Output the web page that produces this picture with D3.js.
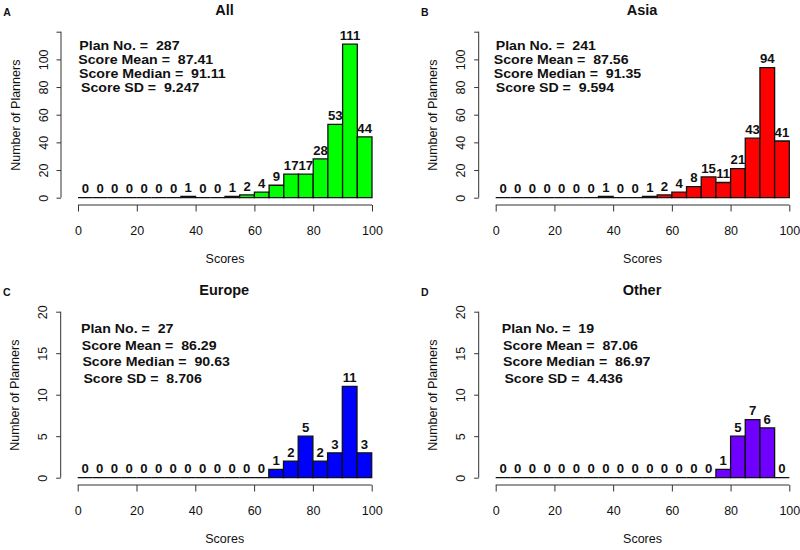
<!DOCTYPE html>
<html><head><meta charset="utf-8">
<script src="https://cdn.jsdelivr.net/npm/d3@7"></script>
<style>
body{margin:0;background:#fff;}
text{font-family:"Liberation Sans",Arial,sans-serif;}
</style></head>
<body>
<svg id="chart" width="800" height="550"></svg>
<script>
// ---- data ----
const binStarts = [0,5,10,15,20,25,30,35,40,45,50,55,60,65,70,75,80,85,90,95];
const binWidth = 5;
const panelLetters = ["A","B","C","D"];
const panelTitles = ["All","Asia","Europe","Other"];
const countsAll    = [0,0,0,0,0,0,0,1,0,0,1,2,4,9,17,17,28,53,111,44];
const countsAsia   = [0,0,0,0,0,0,0,1,0,0,1,2,4,8,15,11,21,43,94,41];
const countsEurope = [0,0,0,0,0,0,0,0,0,0,0,0,0,1,2,5,2,3,11,3];
const countsOther  = [0,0,0,0,0,0,0,0,0,0,0,0,0,0,0,1,5,7,6,0];
const planNo      = ["287","241","27","19"];
const scoreMean   = ["87.41","87.56","86.29","87.06"];
const scoreMedian = ["91.11","91.35","90.63","86.97"];
const scoreSD     = ["9.247","9.594","8.706","4.436"];
const xTicks = [0,20,40,60,80,100];
const yTicksTop = [0,20,40,60,80,100,120];
const yTickLabelsTop = ["0","20","40","60","80","100",""];
const yTicksBottom = [0,5,10,15,20];
const yTickLabelsBottom = ["0","5","10","15","20"];
const xLabel = "Scores";
const yLabel = "Number of Planners";

// ---- layout / style ----
const colors = ["#00ff00","#ff0000","#0000ff","#6f00ff"];
const allCounts = [countsAll, countsAsia, countsEurope, countsOther];
const layout = [
  {x0:78,   x1:372,   yb:197.7, yt:31.7,  ymax:120, ticks:yTicksTop,    labels:yTickLabelsTop,    statY:[110,100,90,80], statDx:[1.3,0.3,1,3]},
  {x0:495.7,x1:789.3, yb:197.7, yt:31.7,  ymax:120, ticks:yTicksTop,    labels:yTickLabelsTop,    statY:[110,100,90,80], statDx:[0,-2,-2,0]},
  {x0:77.7, x1:371.7, yb:477.7, yt:311.7, ymax:20,  ticks:yTicksBottom, labels:yTickLabelsBottom, statY:[18,16,14,12],   statDx:[3.3,4,4.7,5.7]},
  {x0:495.7,x1:789.3, yb:477.7, yt:311.7, ymax:20,  ticks:yTicksBottom, labels:yTickLabelsBottom, statY:[18,16,14,12],   statDx:[6,7.3,7.3,8.7]}
];

const svg = d3.select("#chart");
const axisColor = "#333";
const stretch = 1.1;

layout.forEach((L,i)=>{
  const g = svg.append("g");
  const x = d3.scaleLinear().domain([0,100]).range([L.x0,L.x1]);
  const y = d3.scaleLinear().domain([0,L.ymax]).range([L.yb,L.yt]);
  const counts = allCounts[i];
  const yAxisX = L.x0 - 17;
  const xAxisY = L.yb + 7.3;

  // bars
  g.selectAll("path.bar").data(binStarts).join("path")
    .attr("class","bar")
    .attr("d",(b,j)=>{
      const xa=x(b), xb=x(b+binWidth), ya=y(0), yt=y(counts[j]);
      return `M${xa},${ya}V${yt}H${xb}V${ya}Z`;
    })
    .attr("fill",colors[i]).attr("stroke","#111").attr("stroke-width",1.3);

  // count labels
  g.selectAll("text.cnt").data(binStarts).join("text")
    .attr("class","cnt")
    .attr("transform",(b,j)=>`translate(${x(b+binWidth/2)},${y(counts[j])-4.3}) scale(${stretch},1)`)
    .attr("text-anchor","middle")
    .attr("font-weight","bold").attr("font-size","12px").attr("fill","#111")
    .text((b,j)=>counts[j]);

  // x axis (R style)
  const xa = d3.axisBottom(x).tickValues(xTicks).tickSize(6.5).tickPadding(15).tickFormat(d3.format("d"));
  const gx = g.append("g").attr("transform",`translate(0,${xAxisY})`).call(xa);
  gx.select(".domain").attr("stroke",axisColor).attr("d",`M${x(0)},0H${x(100)}`);
  gx.selectAll(".tick line").attr("stroke",axisColor);
  gx.selectAll(".tick text").attr("font-size","12.5px").attr("fill","#111")
    .attr("font-family","Liberation Sans, Arial, sans-serif");

  // y axis
  const ya = d3.axisLeft(y).tickValues(L.ticks).tickSize(4.5).tickFormat((d,k)=>L.labels[k]);
  const gy = g.append("g").attr("transform",`translate(${yAxisX},0)`).call(ya);
  gy.select(".domain").attr("stroke",axisColor).attr("d",`M0,${y(0)}V${y(L.ymax)}`);
  gy.selectAll(".tick line").attr("stroke",axisColor);
  gy.selectAll(".tick text").attr("font-size","12.5px").attr("fill","#111")
    .attr("font-family","Liberation Sans, Arial, sans-serif")
    .attr("text-anchor","middle").attr("dy",null)
    .attr("transform","rotate(-90)")
    .attr("x",0).attr("y",-13.5);

  // axis titles
  g.append("text").attr("x",(L.x0+L.x1)/2).attr("y",L.yb+65)
    .attr("text-anchor","middle").attr("font-size","12.5px").attr("fill","#111").text(xLabel);
  const ylx = yAxisX - 41.5, yly = (y(0)+y(L.ymax))/2 + 0.5;
  g.append("text").attr("transform",`translate(${ylx},${yly}) rotate(-90)`)
    .attr("text-anchor","middle").attr("font-size","12.5px").attr("fill","#111").text(yLabel);

  // title
  g.append("text").attr("x",(L.x0+L.x1)/2 - 0.5).attr("y",L.yt-16.5)
    .attr("text-anchor","middle").attr("font-weight","bold").attr("font-size","14.5px").attr("fill","#111")
    .text(panelTitles[i]);

  // panel letter
  g.append("text").attr("x",L.x0-71).attr("y",L.yt-15.5)
    .attr("text-anchor","middle").attr("font-weight","bold").attr("font-size","10.5px").attr("fill","#111")
    .text(panelLetters[i]);

  // stats
  const lines = [
    `Plan No. =  ${planNo[i]}`,
    `Score Mean =  ${scoreMean[i]}`,
    `Score Median =  ${scoreMedian[i]}`,
    `Score SD =  ${scoreSD[i]}`
  ];
  lines.forEach((t,k)=>{
    g.append("text")
      .attr("transform",`translate(${L.x0+L.statDx[k]},${y(L.statY[k])+4.8}) scale(1.09,1)`)
      .attr("font-weight","bold").attr("font-size","13px").attr("fill","#111")
      .style("white-space","pre").attr("xml:space","preserve").text(t);
  });
});
</script>
</body></html>
